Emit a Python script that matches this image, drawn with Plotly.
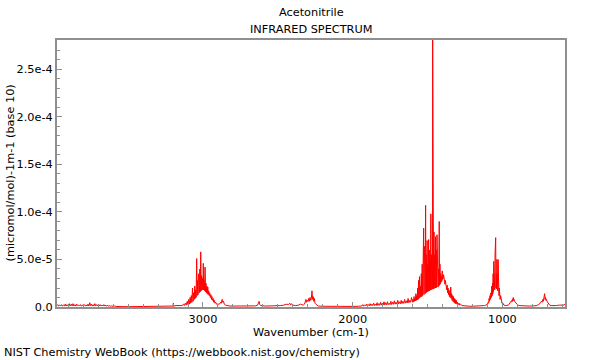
import plotly.graph_objects as go

# Spectrum values: (wavenumber cm-1, absorbance in 1e-6 units)
noise_high_wn = [(3975, 1.5), (3970, 2.5), (3965, 1), (3958, 2), (3952, 1), (3945, 2.5), (3940, 1), (3933, 2),
                 (3926, 1.2), (3920, 3), (3915, 1), (3908, 2.5), (3900, 1), (3893, 3.5), (3888, 1), (3880, 3),
                 (3874, 1.2), (3868, 3.5), (3862, 1), (3855, 2.5), (3850, 1), (3843, 3), (3838, 1.5), (3830, 2),
                 (3824, 1), (3818, 2.5), (3812, 1), (3805, 2), (3800, 1), (3793, 2.5), (3787, 1.2), (3780, 2),
                 (3774, 1), (3768, 3), (3762, 1), (3756, 4.5), (3752, 1.5), (3746, 3), (3740, 1), (3734, 2.5),
                 (3728, 1), (3722, 3.5), (3716, 1.2), (3710, 2.5), (3704, 1), (3698, 3), (3692, 1), (3686, 2.5),
                 (3680, 1), (3674, 2), (3668, 1), (3662, 2.5), (3656, 1), (3650, 2), (3644, 0.8), (3638, 2),
                 (3632, 0.8), (3626, 1.5), (3620, 0.7), (3610, 1.2), (3600, 0.6), (3590, 1), (3575, 0.5),
                 (3560, 0.8), (3540, 0.4), (3500, 0.3), (3450, 0.3), (3400, 0.3), (3350, 0.3), (3300, 0.4),
                 (3250, 0.5)]

ch_stretch = [(3200, 1), (3198, 4), (3195, 1), (3180, 1.5), (3160, 1.5), (3150, 2), (3140, 1.5), (3130, 3),
              (3125, 1.5), (3118, 4), (3112, 2), (3105, 6), (3100, 2.5), (3095, 8), (3090, 3), (3086, 10),
              (3082, 4), (3078, 12), (3074, 5), (3070, 20), (3066, 6), (3062, 15), (3058, 8), (3055, 22),
              (3052, 9), (3049, 18), (3046, 10), (3042, 51), (3039, 12), (3036, 28), (3033, 13), (3030, 35),
              (3027, 31), (3024, 15), (3021, 40), (3018, 16), (3015, 58), (3012, 17), (3009, 33), (3006, 18),
              (3003, 30), (3000, 18), (2998, 46), (2995, 18), (2992, 28), (2989, 17), (2986, 42), (2983, 16),
              (2980, 25), (2977, 15), (2974, 22), (2971, 14), (2968, 21), (2965, 13), (2962, 17), (2958, 12),
              (2955, 15), (2951, 10), (2947, 13), (2943, 8), (2940, 11), (2936, 7), (2932, 9), (2928, 5),
              (2924, 7), (2920, 4), (2915, 5), (2910, 3), (2900, 3), (2890, 3), (2882, 5), (2877, 4),
              (2872, 8), (2868, 5), (2863, 6), (2858, 3), (2850, 2), (2840, 1.5), (2820, 1), (2800, 1)]

cn_stretch = [(2700, 1), (2650, 1.2), (2635, 2), (2628, 4), (2625, 6), (2622, 3), (2615, 1.5), (2580, 1),
              (2520, 1), (2480, 1.5), (2460, 2), (2440, 3), (2430, 2.5), (2420, 4), (2415, 2), (2408, 3.5),
              (2400, 2), (2380, 1.5), (2360, 2), (2350, 3), (2340, 2.5), (2330, 2), (2322, 3), (2316, 5),
              (2312, 8), (2308, 5), (2302, 7), (2298, 6), (2294, 9), (2290, 6), (2285, 10), (2280, 7),
              (2276, 9), (2272, 17), (2268, 8), (2264, 11), (2260, 6), (2256, 9), (2252, 4), (2246, 3),
              (2240, 2), (2230, 1), (2200, 0.8), (2150, 0.6)]

mid_noise = [(2100, 0.5), (2050, 0.5), (2000, 0.6), (1960, 0.8), (1940, 1), (1932, 2.5), (1928, 1), (1920, 2),
             (1915, 1), (1908, 3), (1903, 1.2), (1896, 2.5), (1890, 1.2), (1884, 3.5), (1878, 1.3), (1871, 3),
             (1866, 1.5), (1860, 4), (1855, 1.5), (1849, 3), (1843, 1.6), (1837, 4.5), (1832, 1.7), (1826, 3.5),
             (1820, 1.8), (1814, 5), (1809, 2), (1803, 4), (1797, 2), (1791, 5.5), (1786, 2.2), (1780, 4.5),
             (1774, 2.2), (1768, 5.5), (1763, 2.4), (1757, 4), (1751, 2.5), (1745, 6), (1740, 2.6), (1734, 5),
             (1728, 2.8), (1722, 6.5), (1717, 3), (1711, 5), (1705, 3), (1699, 7), (1694, 3.2), (1688, 5.5),
             (1682, 3.4), (1676, 7), (1671, 3.6), (1665, 6), (1659, 3.8), (1653, 8), (1648, 4), (1642, 6.5),
             (1636, 4.2), (1630, 9), (1625, 4.5), (1619, 7), (1613, 5), (1607, 10), (1602, 5)]

ch3_deform = [(1600, 5), (1597, 8), (1594, 5.5), (1590, 11), (1587, 6), (1584, 9), (1581, 6.5), (1578, 14),
              (1575, 7), (1572, 12), (1569, 7.5), (1566, 20), (1563, 8), (1560, 28), (1557, 9), (1554, 32),
              (1551, 10), (1548, 22), (1545, 10.5), (1542, 35), (1539, 11), (1536, 45), (1533, 12), (1530, 60),
              (1528, 12.5), (1526, 83), (1524, 13), (1522, 64), (1520, 14), (1518, 40), (1516, 14), (1513, 107),
              (1511, 15), (1508, 55), (1506, 15.5), (1503, 70), (1501, 16), (1498, 45), (1496, 16.5), (1493, 71),
              (1491, 17), (1488, 60), (1486, 17), (1483, 50), (1481, 18), (1478, 98), (1476, 18), (1473, 55),
              (1471, 18.5), (1468, 40), (1467, 19), (1466, 300), (1465, 19), (1462, 60), (1460, 19), (1457, 79),
              (1455, 19.5), (1452, 55), (1450, 20), (1447, 74), (1445, 20), (1442, 60), (1440, 20.5), (1437, 76),
              (1435, 21), (1432, 50), (1430, 21), (1427, 40), (1425, 22), (1422, 90), (1420, 23), (1417, 45),
              (1415, 24), (1412, 35), (1410, 26), (1407, 32), (1405, 27), (1402, 38), (1400, 29), (1398, 32),
              (1396, 30), (1393, 34), (1390, 27), (1387, 30), (1384, 24), (1381, 28), (1378, 21), (1375, 25),
              (1372, 18), (1369, 23), (1366, 15), (1363, 20), (1360, 13), (1357, 18), (1354, 11), (1351, 16),
              (1348, 10), (1345, 21), (1342, 9), (1339, 14), (1336, 7), (1333, 12), (1330, 6), (1327, 11),
              (1324, 5), (1321, 9), (1318, 4), (1315, 8), (1312, 3.5), (1308, 7), (1304, 3), (1300, 5),
              (1295, 2.5), (1290, 4), (1285, 2), (1280, 3), (1270, 1.5), (1250, 1), (1220, 0.8), (1200, 0.8)]

rock_band = [(1150, 1), (1120, 1.5), (1110, 2), (1100, 3), (1095, 5), (1092, 4), (1089, 9), (1086, 6),
             (1083, 12), (1080, 8), (1077, 15), (1074, 10), (1071, 22), (1068, 12), (1066, 25), (1064, 14),
             (1062, 35), (1060, 16), (1058, 48), (1056, 18), (1053, 40), (1051, 18), (1049, 57), (1047, 20),
             (1045, 73), (1043, 20), (1041, 35), (1039, 19), (1037, 50), (1035, 18), (1033, 30), (1031, 17),
             (1029, 50), (1027, 15), (1025, 28), (1023, 12), (1021, 20), (1019, 10), (1017, 15), (1015, 8),
             (1012, 12), (1009, 6), (1006, 8), (1003, 4), (1000, 5), (996, 2.5), (990, 2), (980, 1.5)]

cc_stretch = [(970, 1.5), (960, 2), (955, 3), (950, 4), (945, 5), (940, 6.5), (937, 5.5), (934, 8), (931, 6),
              (928, 10), (925, 7), (922, 8), (919, 6), (915, 5), (910, 4), (905, 3), (900, 2.5), (890, 1.5),
              (870, 1.2), (850, 1)]

low_band = [(820, 1), (790, 1.2), (770, 1.5), (760, 2.5), (750, 3.5), (745, 5), (740, 6), (735, 5), (730, 8),
            (727, 6), (724, 9), (721, 7), (718, 14), (715, 8), (712, 10), (709, 7), (706, 8), (702, 6),
            (698, 5), (694, 4), (690, 3), (685, 2), (675, 1.5), (660, 1.3), (640, 1.5), (620, 2), (600, 2.5),
            (590, 2), (585, 3), (582, 2)]

segments = [noise_high_wn, ch_stretch, cn_stretch, mid_noise, ch3_deform, rock_band, cc_stretch, low_band]
wavenumber = [w for seg in segments for w, _ in seg]
absorbance = [a * 1e-6 for seg in segments for _, a in seg]

y_tickvals = [0, 5e-5, 1e-4, 1.5e-4, 2e-4, 2.5e-4]
y_ticktext = ["0.0", "5.0e-5", "1.0e-4", "1.5e-4", "2.0e-4", "2.5e-4"]
x_tickvals = [3000, 2000, 1000]
x_ticktext = ["3000", "2000", "1000"]

FONT = "DejaVu Sans"
FS = 11.3
AX = "#8f8f8f"

fig = go.Figure(go.Scatter(x=wavenumber, y=absorbance, mode="lines",
                           line=dict(color="#ff0000", width=1), hoverinfo="skip"))

fig.update_layout(
    width=600, height=360,
    margin=dict(l=57, r=35, t=40, b=53),
    paper_bgcolor="white", plot_bgcolor="white",
    showlegend=False,
    font=dict(family=FONT, size=FS, color="black"),
    xaxis=dict(range=[3975, 582], tickmode="array", tickvals=x_tickvals, ticktext=x_ticktext,
               ticks="inside", ticklen=5, tickcolor=AX, tickwidth=1,
               showline=True, linecolor=AX, linewidth=2, mirror=True,
               showgrid=False, zeroline=False, tickfont=dict(size=FS),
               minor=dict(tickmode="linear", tick0=0, dtick=100, ticks="inside", ticklen=3,
                          tickcolor=AX, showgrid=False)),
    yaxis=dict(range=[0, 2.81e-4], tickmode="array", tickvals=y_tickvals, ticktext=y_ticktext,
               ticks="inside", ticklen=5, tickcolor=AX, tickwidth=1,
               showline=True, linecolor=AX, linewidth=2, mirror=True,
               showgrid=False, zeroline=False, tickfont=dict(size=FS),
               minor=dict(tickmode="linear", tick0=0, dtick=1e-5, ticks="inside", ticklen=3,
                          tickcolor=AX, showgrid=False)),
    annotations=[
        dict(text="Acetonitrile", x=0.5, y=1, xref="paper", yref="paper", xanchor="center",
             yanchor="bottom", yshift=19, showarrow=False, font=dict(size=FS)),
        dict(text="INFRARED SPECTRUM", x=0.5, y=1, xref="paper", yref="paper", xanchor="center",
             yanchor="bottom", yshift=2, showarrow=False, font=dict(size=FS)),
        dict(text="Wavenumber (cm-1)", x=0.5, y=0, xref="paper", yref="paper", xanchor="center",
             yanchor="top", yshift=-17, showarrow=False, font=dict(size=FS)),
        dict(text="(micromol/mol)-1m-1 (base 10)", x=0, y=0.5, xref="paper", yref="paper",
             xanchor="center", yanchor="middle", xshift=-47, textangle=-90, showarrow=False,
             font=dict(size=FS)),
        dict(text="NIST Chemistry WebBook (https://webbook.nist.gov/chemistry)", x=0, y=0,
             xref="paper", yref="paper", xanchor="left", yanchor="top", xshift=-55, yshift=-37,
             showarrow=False, font=dict(size=FS)),
    ],
)

fig.write_html("out.html", config={"displayModeBar": False},
               post_script="document.body.style.margin='0';document.body.style.overflow='hidden';")
